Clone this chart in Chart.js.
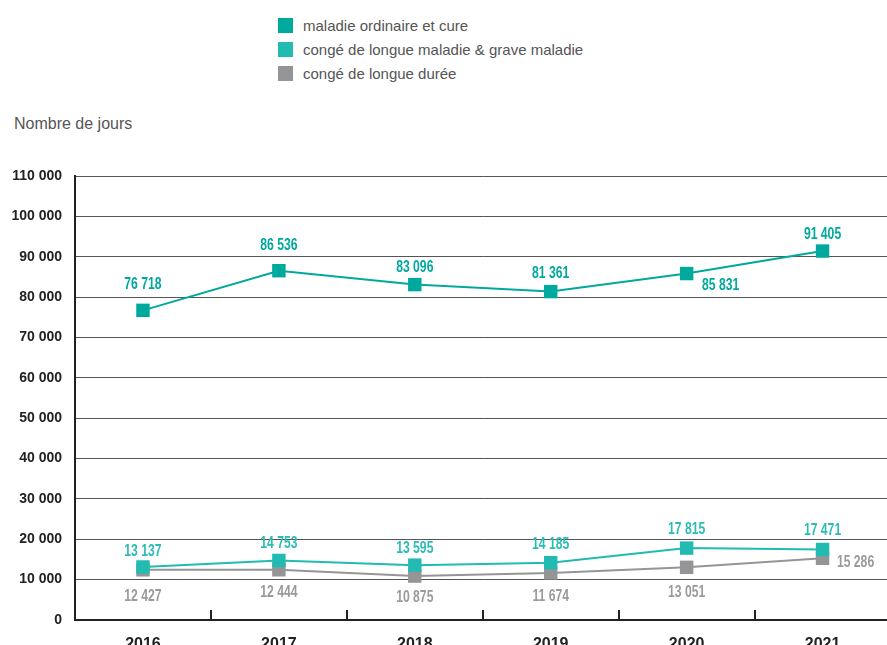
<!DOCTYPE html>
<html lang="fr">
<head>
<meta charset="utf-8">
<title>Nombre de jours d'absence</title>
<script src="https://cdn.jsdelivr.net/npm/chart.js@4.4.0/dist/chart.umd.min.js"></script>
<style>
  html, body { margin: 0; padding: 0; width: 887px; height: 645px; overflow: hidden; background: #fff; }
  #legend { position: absolute; left: 278px; top: 13px; font: 15px "Liberation Sans", Arial, sans-serif; color: #555; }
  #legend .item { display: flex; align-items: center; height: 24px; white-space: nowrap; }
  #legend .sw { width: 15px; height: 15px; margin-right: 10px; flex: none; }
  #ytitle { position: absolute; left: 14px; top: 115px; font: 16px "Liberation Sans", Arial, sans-serif; color: #555; }
  #wrap { position: absolute; left: 0; top: 150px; }
</style>
</head>
<body>
<div id="legend"></div>
<div id="ytitle">Nombre de jours</div>
<div id="wrap"><canvas id="chart" width="900" height="530"></canvas></div>
<script>
// Years on the horizontal axis
const years = ['2016', '2017', '2018', '2019', '2020', '2021'];

// Series names
const seriesNames = [
  'maladie ordinaire et cure',
  'congé de longue maladie & grave maladie',
  'congé de longue durée'
];

// Number of days per year
const maladieOrdinaire = [76718, 86536, 83096, 81361, 85831, 91405];
const longueMaladie    = [13137, 14753, 13595, 14185, 17815, 17471];
const longueDuree      = [12427, 12444, 10875, 11674, 13051, 15286];

// Value axis range
const yMin = 0;
const yMax = 110000;
const yStep = 10000;

const seriesColors = ['#00a99d', '#22bbb2', '#959598'];
const labelColors  = ['#00a99d', '#2bbdb4', '#9a9a9d'];

// Where each value label sits relative to its point (dx, dy in px)
const labelPlacement = [
  [[0, -26], [0, -25], [0, -17], [0, -18], [34, 12], [0, -16]],
  [[0, -15], [0, -17], [0, -17], [0, -18], [0, -18], [0, -19]],
  [[0, 27], [0, 23], [0, 21], [0, 24], [0, 25], [33, 4]]
];

const fmt = n => String(n).replace(/\B(?=(\d{3})+(?!\d))/g, ' ');

const axisFamily = '"Liberation Sans", Arial, sans-serif';

// HTML legend
const legendEl = document.getElementById('legend');
seriesNames.forEach((name, i) => {
  const row = document.createElement('div');
  row.className = 'item';
  const sw = document.createElement('span');
  sw.className = 'sw';
  sw.style.background = seriesColors[i];
  const txt = document.createElement('span');
  txt.textContent = name;
  row.appendChild(sw);
  row.appendChild(txt);
  legendEl.appendChild(row);
});

// Small upward tick marks between the year bands
const bandTicks = {
  id: 'bandTicks',
  beforeDatasetsDraw(chart) {
    const x = chart.scales.x, a = chart.chartArea, ctx = chart.ctx;
    ctx.save();
    ctx.strokeStyle = '#222';
    ctx.lineWidth = 2;
    for (let i = 0; i < years.length - 1; i++) {
      const px = Math.round((x.getPixelForValue(i) + x.getPixelForValue(i + 1)) / 2);
      ctx.beginPath();
      ctx.moveTo(px, a.bottom - 10);
      ctx.lineTo(px, a.bottom);
      ctx.stroke();
    }
    ctx.restore();
  }
};

// Value labels next to each point, set in a narrow bold face
const valueLabels = {
  id: 'valueLabels',
  afterDatasetsDraw(chart) {
    const ctx = chart.ctx;
    const squeeze = 0.76;
    chart.data.datasets.forEach((ds, i) => {
      const meta = chart.getDatasetMeta(i);
      meta.data.forEach((pt, j) => {
        const [dx, dy] = labelPlacement[i][j];
        ctx.save();
        ctx.font = 'bold 16px ' + axisFamily;
        ctx.fillStyle = labelColors[i];
        ctx.textAlign = 'center';
        ctx.textBaseline = 'middle';
        ctx.translate(pt.x + dx, pt.y + dy);
        ctx.scale(squeeze, 1);
        ctx.fillText(fmt(ds.data[j]), 0, 0);
        ctx.restore();
      });
    });
  }
};

const makeDataset = (label, data, i) => ({
  label,
  data,
  borderColor: seriesColors[i],
  backgroundColor: seriesColors[i],
  borderWidth: 2,
  tension: 0,
  pointStyle: 'rect',
  pointRadius: 9.5,
  pointHoverRadius: 9.5,
  pointBorderWidth: 0,
  pointBackgroundColor: seriesColors[i],
  clip: false
});

new Chart(document.getElementById('chart'), {
  type: 'line',
  data: {
    labels: years,
    datasets: [
      makeDataset(seriesNames[0], maladieOrdinaire, 0),
      makeDataset(seriesNames[1], longueMaladie, 1),
      makeDataset(seriesNames[2], longueDuree, 2)
    ]
  },
  options: {
    responsive: false,
    animation: false,
    events: [],
    layout: { padding: { top: 26, right: 7, bottom: 0, left: 0 } },
    plugins: { legend: { display: false }, tooltip: { enabled: false } },
    scales: {
      x: {
        offset: true,
        grid: { display: false, drawTicks: false },
        border: { display: true, color: '#222', width: 2 },
        ticks: {
          padding: 15,
          color: '#222',
          maxRotation: 0,
          font: { family: axisFamily, size: 16, weight: 'bold' }
        },
        afterFit(scale) { scale.height = 60; }
      },
      y: {
        min: yMin,
        max: yMax,
        grid: { color: '#555', lineWidth: 1, drawTicks: false },
        border: { display: true, color: '#222', width: 2 },
        ticks: {
          stepSize: yStep,
          padding: 13,
          color: '#222',
          font: { family: axisFamily, size: 14, weight: 'bold' },
          callback: v => fmt(v)
        },
        afterFit(scale) { scale.width = 75; }
      }
    }
  },
  plugins: [bandTicks, valueLabels]
});
</script>
</body>
</html>
